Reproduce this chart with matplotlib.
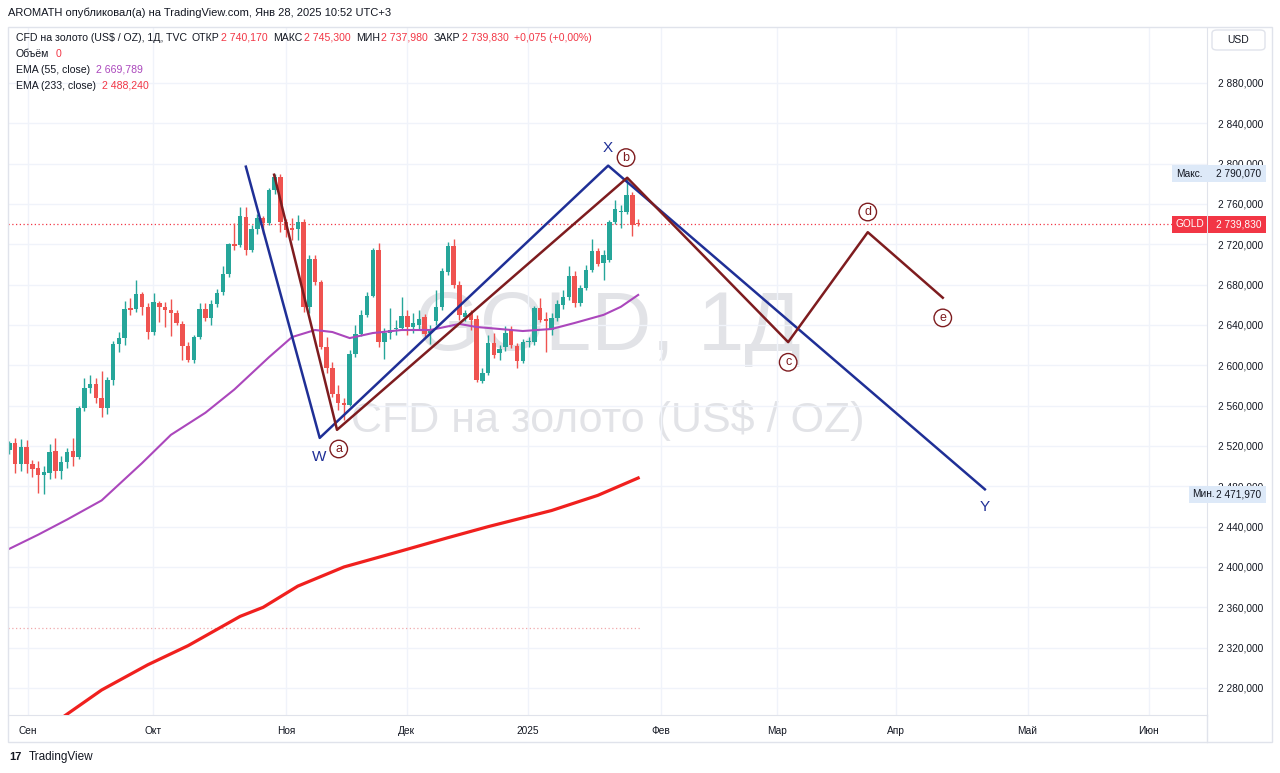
import numpy as np
import matplotlib
matplotlib.use('Agg')
import matplotlib.pyplot as plt
from matplotlib.patches import Rectangle, FancyBboxPatch
from matplotlib.lines import Line2D
from matplotlib.ticker import FuncFormatter
from matplotlib.transforms import blended_transform_factory

plt.rcParams['font.family'] = ['Liberation Sans', 'DejaVu Sans']

# candles, one per trading day (late Aug 2024 .. 28 Jan 2025)
opens = [2516, 2523, 2502, 2519, 2502, 2498, 2491, 2493, 2515, 2495,
         2504, 2515, 2509, 2558, 2577, 2581, 2568, 2558, 2585, 2621,
         2627, 2657, 2656, 2671, 2658, 2633, 2662, 2658, 2655, 2652,
         2641, 2619, 2605, 2628, 2656, 2647, 2661, 2673, 2691, 2720,
         2719, 2747, 2714, 2735, 2746, 2741, 2774, 2787, 2742, 2736,
         2735, 2742, 2658, 2705, 2683, 2618, 2597, 2572, 2563, 2561,
         2611, 2631, 2650, 2669, 2714, 2623, 2632, 2636, 2637, 2649,
         2638, 2640, 2648, 2632, 2644, 2658, 2693, 2718, 2680, 2648,
         2652, 2646, 2584, 2592, 2622, 2612, 2618, 2635, 2619, 2604,
         2623, 2623, 2657, 2646, 2635, 2647, 2660, 2668, 2689, 2662,
         2677, 2695, 2713, 2701, 2704, 2742, 2752, 2752, 2769, 2740.17]
highs = [2525, 2528, 2527, 2526, 2506, 2505, 2500, 2522, 2528, 2510,
         2518, 2528, 2560, 2587, 2590, 2587, 2594, 2588, 2624, 2633,
         2664, 2667, 2685, 2673, 2662, 2672, 2664, 2663, 2666, 2655,
         2644, 2623, 2630, 2662, 2662, 2665, 2676, 2698, 2721, 2741,
         2757, 2757, 2739, 2750, 2748, 2776, 2790, 2790.07, 2745, 2746,
         2749, 2745, 2709, 2709, 2685, 2628, 2603, 2580, 2568, 2615,
         2640, 2655, 2673, 2716, 2721, 2637, 2657, 2645, 2668, 2655,
         2652, 2655, 2651, 2640, 2675, 2696, 2722, 2725, 2684, 2655,
         2655, 2650, 2597, 2630, 2632, 2620, 2639, 2639, 2622, 2626,
         2628, 2659, 2667, 2653, 2652, 2665, 2675, 2698, 2694, 2680,
         2699, 2725, 2716, 2714, 2744, 2764, 2759, 2786, 2772, 2745.30]
lows = [2512, 2493, 2495, 2493, 2489, 2473, 2471.97, 2487, 2488, 2487,
        2498, 2500, 2507, 2555, 2573, 2563, 2549, 2552, 2580, 2613,
        2620, 2650, 2653, 2650, 2626, 2630, 2643, 2638, 2629, 2640,
        2605, 2603, 2602, 2626, 2644, 2640, 2658, 2670, 2688, 2714,
        2717, 2709, 2712, 2730, 2730, 2739, 2770, 2732, 2727, 2724,
        2724, 2653, 2652, 2680, 2616, 2592, 2569, 2556, 2546, 2560,
        2608, 2629, 2648, 2668, 2618, 2606, 2626, 2630, 2635, 2630,
        2632, 2635, 2628, 2621, 2640, 2655, 2690, 2677, 2645, 2644,
        2635, 2583, 2582, 2590, 2607, 2605, 2614, 2617, 2597, 2602,
        2618, 2620, 2643, 2613, 2630, 2644, 2656, 2665, 2658, 2659,
        2675, 2693, 2698, 2685, 2702, 2740, 2736, 2750, 2728, 2737.98]
closes = [2523, 2502, 2519, 2502, 2497, 2491, 2494, 2514, 2495, 2504,
          2514, 2509, 2558, 2577, 2581, 2568, 2558, 2585, 2621, 2627,
          2656, 2655, 2671, 2658, 2633, 2663, 2658, 2655, 2652, 2642,
          2619, 2605, 2628, 2656, 2647, 2661, 2672, 2691, 2720, 2718,
          2748, 2714, 2735, 2746, 2741, 2774, 2787, 2742, 2734, 2734,
          2742, 2658, 2705, 2683, 2618, 2597, 2572, 2563, 2561, 2611,
          2631, 2650, 2669, 2714, 2623, 2632, 2635, 2637, 2649, 2638,
          2642, 2646, 2631, 2636, 2658, 2694, 2718, 2680, 2650, 2652,
          2645, 2585, 2592, 2622, 2610, 2616, 2632, 2620, 2604, 2623,
          2624, 2657, 2645, 2644, 2647, 2661, 2668, 2689, 2662, 2677,
          2695, 2713, 2700, 2709, 2742, 2755, 2753, 2769, 2739, 2739.83]

# EMA readings (bar index, price)
ema55_bars = [0, 5, 10, 16, 23, 28, 34, 39, 45, 49, 53, 56, 59, 63, 68, 73, 78, 81, 85, 89, 94, 98, 103, 106, 109]
ema55_vals = [2418, 2432, 2447, 2466, 2503, 2531, 2553, 2576, 2608, 2628, 2635, 2633, 2627, 2632, 2635,
              2635, 2641, 2638, 2636, 2634, 2636, 2642, 2650, 2658, 2669.79]
ema233_bars = [9, 16, 24, 31, 40, 44, 50, 58, 68, 76, 83, 94, 102, 109]
ema233_vals = [2250, 2278, 2303, 2322, 2351, 2360, 2381, 2400, 2416, 2429, 2440, 2456, 2471, 2488.24]

# wave drawing (bar index, price)
blue_bars = [41.0, 53.8, 103.8, 169.1]
blue_vals = [2797, 2528, 2798, 2477]
blue_labels = ['W', 'X', 'Y']
blue_label_pos = [(53.7, 2509), (103.8, 2815), (169.1, 2459)]
red_bars = [45.9, 56.8, 107.1, 135.0, 148.8, 161.8]
red_vals = [2789, 2536, 2786, 2623, 2732, 2667]
red_labels = ['a', 'b', 'c', 'd', 'e']
red_label_pos = [(57.1, 2517), (106.9, 2806), (135.0, 2603), (148.8, 2752), (161.8, 2647)]

month_labels = ['Сен', 'Окт', 'Ноя', 'Дек', '2025', 'Фев', 'Мар', 'Апр', 'Май', 'Июн']
month_pos = [3.2, 24.9, 48.0, 68.9, 89.9, 113.0, 133.0, 153.7, 176.5, 197.5]
price_ticks = list(range(2280, 2881, 40))

last_price = 2739.83
max_price = 2790.07
min_price = 2471.97
prev_line = 2339.5

GREEN = '#26a69a'
RED = '#ef5350'
TXT = '#131722'
VALRED = '#f23645'
BLUE = '#1f2f96'
MAROON = '#7e1c1f'
PURPLE = '#ab47bc'

W, H = 1280, 773


def fx(px):
    return px / W


def fy(py):
    return 1 - py / H


fig = plt.figure(figsize=(12.8, 7.73), dpi=100)
fig.patch.set_facecolor('white')
ax = fig.add_axes([fx(8), fy(715), fx(1207) - fx(8), fy(28) - fy(715)])
ax.set_xlim(-0.23, 207.6)
ax.set_ylim(2253.2, 2934.5)

# watermark
ax.text(0.5, 0.563, 'GOLD, 1Д', transform=ax.transAxes, ha='center', va='center',
        fontsize=60, color='#e2e3e7', zorder=0)
ax.text(0.5, 0.428, 'CFD на золото (US$ / OZ)', transform=ax.transAxes, ha='center', va='center',
        fontsize=31, color='#e2e3e7', zorder=0)

# candles
o = np.array(opens)
c = np.array(closes)
hi = np.array(highs)
lo = np.array(lows)
idx = np.arange(len(o))
cols = np.where(c >= o, GREEN, RED)
ax.vlines(idx, lo, hi, colors=cols, lw=1, zorder=3)
ax.bar(idx, np.maximum(np.abs(c - o), 1.2), bottom=np.minimum(o, c), width=0.78,
       color=cols, zorder=4)

ax.plot(ema55_bars, ema55_vals, color=PURPLE, lw=1.5, zorder=5)
ax.plot(ema233_bars, ema233_vals, color='#f0201e', lw=2.3, zorder=5)

ax.axhline(last_price, color=VALRED, ls=(0, (1, 2)), lw=0.9, zorder=2)
ax.hlines(prev_line, -0.23, 109.5, color='#f0a8ab', ls=(0, (1, 2)), lw=0.9, zorder=2)

ax.plot(blue_bars, blue_vals, color=BLUE, lw=1.8, zorder=6)
ax.plot(red_bars, red_vals, color=MAROON, lw=1.8, zorder=6)
for lab, (bx, by) in zip(blue_labels, blue_label_pos):
    ax.text(bx, by, lab, color=BLUE, fontsize=11, ha='center', va='center', zorder=7)
for lab, (bx, by) in zip(red_labels, red_label_pos):
    ax.text(bx, by, lab, color=MAROON, fontsize=9, ha='center', va='center', zorder=7,
            bbox=dict(boxstyle='circle,pad=0.22', fc='white', ec=MAROON, lw=1))

# axes styling
ax.set_yticks(price_ticks)
ax.yaxis.tick_right()
ax.yaxis.set_major_formatter(FuncFormatter(lambda v, _: f"{int(v):,}".replace(',', ' ') + ',000'))
ax.set_xticks(month_pos, month_labels)
ax.tick_params(axis='y', length=0, pad=8, labelsize=7.3, labelcolor=TXT)
ax.tick_params(axis='x', length=0, pad=8, labelsize=7.3, labelcolor=TXT)
ax.grid(True, color='#f0f3fa', lw=1, zorder=0)
ax.set_axisbelow(True)
for s in ['left', 'top']:
    ax.spines[s].set_visible(False)
for s in ['right', 'bottom']:
    ax.spines[s].set_color('#e0e3eb')

# price axis labels
trans = blended_transform_factory(fig.transFigure, ax.transData)
px_unit = 1 / 1.0083


def axis_box(y, x0, x1, color):
    r = Rectangle((fx(x0), y - 8.5 * px_unit), fx(x1) - fx(x0), 17 * px_unit, transform=trans,
                  fc=color, ec='none', clip_on=False, zorder=10)
    ax.add_patch(r)


def axis_text(x, y, s, color):
    ax.text(fx(x), y, s, transform=trans, va='center', fontsize=7.3, color=color,
            zorder=11, clip_on=False)


axis_box(max_price, 1172, 1266, '#dde9f8')
axis_text(1176, max_price, 'Макс.', TXT)
axis_text(1216, max_price, '2 790,070', TXT)

axis_box(last_price, 1172, 1207, VALRED)
axis_box(last_price, 1208, 1266, VALRED)
axis_text(1176, last_price, 'GOLD', 'white')
axis_text(1216, last_price, '2 739,830', 'white')

axis_box(min_price, 1189, 1266, '#dde9f8')
axis_text(1192, min_price, 'Мин.', TXT)
axis_text(1216, min_price, '2 471,970', TXT)

# frame around chart
fig.add_artist(Rectangle((fx(8), fy(742)), fx(1272) - fx(8), fy(27) - fy(742), transform=fig.transFigure,
                         fill=False, ec='#e0e3eb', lw=1))
fig.add_artist(Line2D([fx(1207), fx(1207)], [fy(742), fy(715)], color='#e0e3eb', lw=1))
fig.add_artist(FancyBboxPatch((fx(1212), fy(50)), fx(1265) - fx(1212), fy(30) - fy(50),
                              boxstyle='round,pad=0,rounding_size=0.004', transform=fig.transFigure,
                              fc='white', ec='#e0e3eb', lw=1))
fig.text(fx(1238), fy(40), 'USD', ha='center', va='center', fontsize=7.5, color=TXT)

# header and legend
fig.text(fx(8), fy(13), 'AROMATH опубликовал(а) на TradingView.com, Янв 28, 2025 10:52 UTC+3',
         fontsize=8, color=TXT, va='center')
legend_rows = [
    (38, [('CFD на золото (US$ / OZ), 1Д, TVC', TXT, 0), ('ОТКР', TXT, 5), ('2 740,170', VALRED, 1),
          ('МАКС', TXT, 6), ('2 745,300', VALRED, 1), ('МИН', TXT, 6), ('2 737,980', VALRED, 1),
          ('ЗАКР', TXT, 6), ('2 739,830', VALRED, 1), ('+0,075 (+0,00%)', VALRED, 6)]),
    (54, [('Объём', TXT, 0), ('0', VALRED, 6)]),
    (70, [('EMA (55, close)', TXT, 0), ('2 669,789', PURPLE, 6)]),
    (86, [('EMA (233, close)', TXT, 0), ('2 488,240', VALRED, 6)]),
]
for ypx, parts in legend_rows:
    first_txt, first_col, _ = parts[0]
    prev = fig.text(fx(16), fy(ypx), first_txt, fontsize=7.6, color=first_col, va='center')
    # each following piece starts right after the previous one
    for txt, col, gap in parts[1:]:
        prev = ax.annotate(txt, xy=(1, 0.5), xycoords=prev, xytext=(gap, 0), textcoords='offset pixels',
                           fontsize=7.6, color=col, va='center', ha='left', annotation_clip=False)

# footer logo
fig.text(fx(9), fy(757), '17', fontsize=8, fontweight='bold', color=TXT, va='center')
fig.text(fx(29), fy(757), 'TradingView', fontsize=8.5, color=TXT, va='center')

fig.savefig('out.png', dpi=100)
